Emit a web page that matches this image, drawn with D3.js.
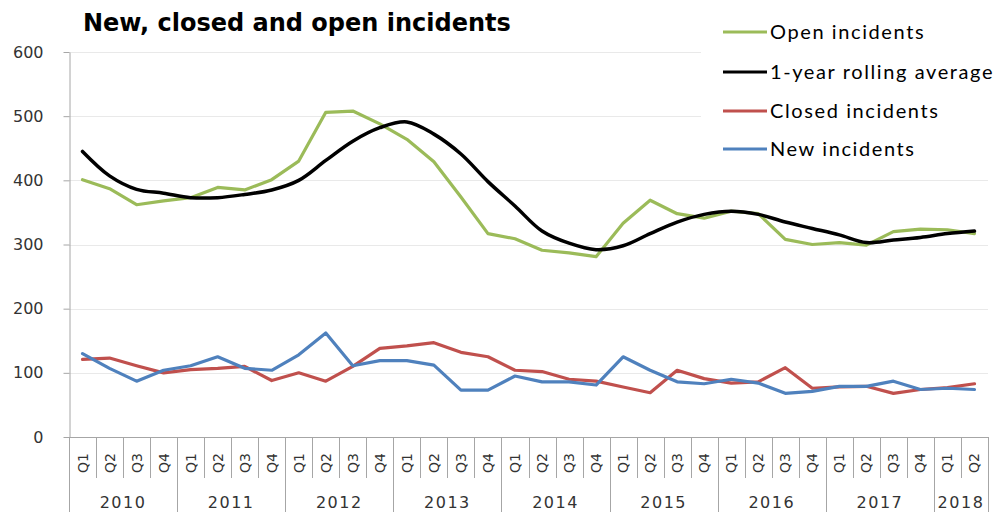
<!DOCTYPE html>
<html>
<head>
<meta charset="utf-8">
<script src="https://cdn.jsdelivr.net/npm/d3@7"></script>
<style>
  html, body { margin: 0; padding: 0; background: #fff; }
  svg { display: block; }
</style>
</head>
<body>
<svg id="chart" width="997" height="512"></svg>
<script>
const years = ["2010", "2011", "2012", "2013", "2014", "2015", "2016", "2017", "2018"];
const quarters = ["Q1", "Q2", "Q3", "Q4"];
const quartersPerYear = [4, 4, 4, 4, 4, 4, 4, 4, 2];
const yTicks = [0, 100, 200, 300, 400, 500, 600];

const openIncidents = [401, 387, 362, 368, 373, 389, 385, 401, 430, 506, 508, 488,
  464, 429, 374, 317, 309, 291, 287, 281, 333, 369, 348, 341,
  352, 348, 308, 300, 303, 299, 320, 324, 323, 317];
const rollingAverage = [445, 407, 386, 380, 373, 373, 378, 385, 400, 431, 461, 482,
  491, 472, 441, 398, 360, 321, 302, 292, 298, 317, 335, 347,
  352, 347, 335, 325, 315, 303, 307, 311, 317, 321];
const closedIncidents = [121, 123, 111, 100, 105, 107, 110, 88, 100, 87, 110, 138,
  142, 147, 132, 125, 104, 102, 90, 87, 78, 69, 104, 91,
  84, 86, 108, 76, 78, 79, 68, 74, 77, 83];
const newIncidents = [130, 107, 87, 104, 111, 125, 107, 104, 128, 162, 111, 119,
  119, 112, 73, 73, 95, 86, 86, 81, 125, 104, 86, 83,
  90, 84, 68, 71, 79, 79, 87, 74, 76, 74];

const seriesNames = ["Open incidents", "1-year rolling average", "Closed incidents", "New incidents"];
const seriesColors = ["#9bbb59", "#000000", "#c0504d", "#4f81bd"];

(function () {
  const cats = [];
  years.forEach((yr, yi) => {
    for (let q = 0; q < quartersPerYear[yi]; q++) cats.push({ key: yr + " " + quarters[q], year: yr, q: quarters[q] });
  });

  const svg = d3.select("#chart");
  const pLeft = 69, pRight = 988, pTop = 52, pBottom = 437;

  const x = d3.scaleBand().domain(cats.map(c => c.key)).range([pLeft, pRight]).paddingInner(0).paddingOuter(0);
  const y = d3.scaleLinear().domain([0, 600]).range([pBottom, pTop]);
  const cx = i => x(cats[i].key) + x.bandwidth() / 2;

  // gridlines
  svg.append("g").selectAll("line").data(yTicks.filter(d => d > 0)).join("line")
    .attr("x1", pLeft).attr("x2", pRight)
    .attr("y1", d => Math.round(y(d)) + 0.5).attr("y2", d => Math.round(y(d)) + 0.5)
    .attr("stroke", "#e9e9e9").attr("stroke-width", 1);

  // legend background covers gridlines
  svg.append("rect").attr("x", 701).attr("y", 0).attr("width", 296).attr("height", 166).attr("fill", "#fff");

  // y axis
  const yAxis = d3.axisLeft(y).tickValues(yTicks).tickSize(6).tickPadding(20).tickSizeOuter(0);
  const yg = svg.append("g").attr("transform", `translate(${pLeft + 0.5},0)`).call(yAxis);
  yg.select(".domain").attr("stroke", "#a6a6a6");
  yg.selectAll(".tick line").attr("stroke", "#a6a6a6");
  yg.selectAll(".tick text").attr("font-family", "DejaVu Sans").attr("font-size", 16).attr("fill", "#333");

  // x axis baseline
  svg.append("line").attr("x1", pLeft).attr("x2", pRight + 1).attr("y1", pBottom + 0.5).attr("y2", pBottom + 0.5)
    .attr("stroke", "#a6a6a6");

  // category dividers
  const xg = svg.append("g");
  cats.forEach((c) => {
    const xb = Math.round(x(c.key)) + 0.5;
    const isYearStart = c.q === "Q1";
    xg.append("line").attr("x1", xb).attr("x2", xb).attr("y1", pBottom).attr("y2", isYearStart ? 512 : 478)
      .attr("stroke", "#a6a6a6");
  });
  xg.append("line").attr("x1", pRight + 0.5).attr("x2", pRight + 0.5).attr("y1", pBottom).attr("y2", 512).attr("stroke", "#a6a6a6");

  // quarter labels
  xg.selectAll("text.q").data(cats).join("text").attr("class", "q")
    .attr("transform", (d, i) => `translate(${cx(i) + 5},463) rotate(-90)`)
    .attr("text-anchor", "middle")
    .attr("font-family", "DejaVu Sans").attr("font-size", 14).attr("fill", "#333")
    .text(d => d.q);

  // year labels
  years.forEach((yr) => {
    const ks = cats.filter(c => c.year === yr);
    const x0 = x(ks[0].key), x1 = x(ks[ks.length - 1].key) + x.bandwidth();
    xg.append("text").attr("x", (x0 + x1) / 2).attr("y", 508)
      .attr("text-anchor", "middle")
      .attr("font-family", "DejaVu Sans").attr("font-size", 16).attr("letter-spacing", 1.5).attr("fill", "#333")
      .text(yr);
  });

  // lines
  const allSeries = [openIncidents, rollingAverage, closedIncidents, newIncidents];
  const drawOrder = [2, 3, 0, 1];
  drawOrder.forEach(si => {
    const gen = d3.line().x((d, i) => cx(i)).y(d => y(d));
    if (si === 1) gen.curve(d3.curveCatmullRom.alpha(0.5));
    svg.append("path").datum(allSeries[si])
      .attr("d", gen)
      .attr("fill", "none")
      .attr("stroke", seriesColors[si])
      .attr("stroke-width", si === 1 ? 3.5 : 3.2)
      .attr("stroke-linejoin", "round")
      .attr("stroke-linecap", "round");
  });

  // title
  svg.append("text").attr("x", 83).attr("y", 31)
    .attr("font-family", "DejaVu Sans").attr("font-weight", "bold").attr("font-size", 24).attr("fill", "#000")
    .text("New, closed and open incidents");

  // legend
  const legendY = [32, 72, 111, 149];
  const lg = svg.append("g");
  seriesNames.forEach((n, i) => {
    lg.append("line").attr("x1", 723).attr("x2", 767).attr("y1", legendY[i]).attr("y2", legendY[i])
      .attr("stroke", seriesColors[i]).attr("stroke-width", 3.2);
    lg.append("text").attr("x", 770).attr("y", legendY[i] + 7)
      .attr("font-family", "Lato").attr("font-size", 20).attr("letter-spacing", 1.6).attr("fill", "#000")
      .text(n);
  });
})();
</script>
</body>
</html>
